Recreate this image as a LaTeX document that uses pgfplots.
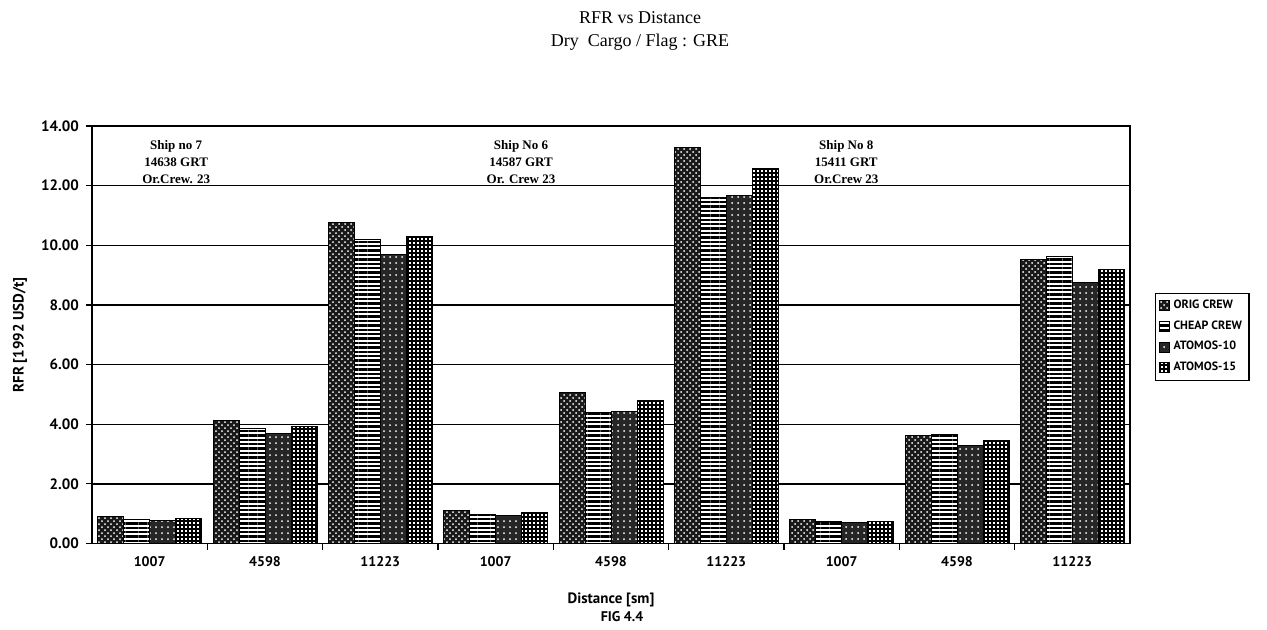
\documentclass[border=0pt]{standalone}
\usepackage{pgfplots}
\pgfplotsset{compat=1.18}
\usetikzlibrary{patterns,patterns.meta}
\usepackage{fontspec}
\setmainfont{Liberation Serif}
\newfontfamily\sansf{PT Sans}
\begin{document}
\begin{tikzpicture}[x=1pt,y=1pt]
\useasboundingbox (0,0) rectangle (633.5,314.5);
\begin{axis}[
  at={(46pt,42.75pt)}, anchor=south west,
  scale only axis, width=519pt, height=208.75pt,
  ymin=0, ymax=14, xmin=-0.5, xmax=8.5,
  ybar=0pt, bar width=13pt,
  axis line style={line width=0.8pt},
  ytick={0,2,...,14},
  ymajorgrids, grid style={black, line width=0.7pt},
  /pgf/number format/assume math mode=true,
  yticklabel={\pgfmathprintnumber[fixed,zerofill,precision=2]{\tick}},
  yticklabel style={font=\sansf\bfseries\fontsize{7.5}{8}\selectfont},
  xtick={0,...,8},
  xticklabels={1007,4598,11223,1007,4598,11223,1007,4598,11223},
  xticklabel style={font=\sansf\bfseries\fontsize{7}{8}\selectfont},
  major x tick style={draw=none},
  minor xtick={0.5,1.5,...,7.5},
  minor tick length=3pt, major tick length=3pt,
  tick align=outside, xtick pos=bottom, ytick pos=left,
  tick style={black, line width=0.6pt},
  legend style={at={(1.024,0.495)}, anchor=west, draw=black, line width=0.6pt,
    font=\sansf\bfseries\fontsize{6}{7}\selectfont, inner sep=1.5pt, row sep=0.5pt},
  legend cell align=left,
  legend image code/.code={\draw[#1] (0pt,-2.5pt) rectangle (5pt,2.5pt);},
]
\addplot[draw=black, line width=0.5pt, fill=black!90, postaction={pattern=crosshatch dots, pattern color=white}]
 coordinates {(0,0.90) (1,4.13) (2,10.76) (3,1.12) (4,5.07) (5,13.28) (6,0.79) (7,3.63) (8,9.53)};
\addlegendentry{ORIG CREW}
\addplot[draw=black, line width=0.5pt, fill=white, postaction={pattern={Lines[angle=0,distance=2.2pt,line width=1.2pt]}, pattern color=black}]
 coordinates {(0,0.82) (1,3.87) (2,10.20) (3,0.96) (4,4.40) (5,11.60) (6,0.73) (7,3.65) (8,9.62)};
\addlegendentry{CHEAP CREW}
\addplot[draw=black, line width=0.5pt, fill=black!85, postaction={pattern=dots, pattern color=white}]
 coordinates {(0,0.76) (1,3.68) (2,9.70) (3,0.93) (4,4.42) (5,11.68) (6,0.71) (7,3.27) (8,8.75)};
\addlegendentry{ATOMOS-10}
\addplot[draw=black, line width=0.5pt, fill=white, postaction={pattern={Hatch[angle=0,distance=2pt,line width=0.9pt]}, pattern color=black}]
 coordinates {(0,0.85) (1,3.93) (2,10.29) (3,1.04) (4,4.80) (5,12.59) (6,0.73) (7,3.47) (8,9.19)};
\addlegendentry{ATOMOS-15}
\node[font=\bfseries\fontsize{6.5}{8.5}\selectfont, align=center] at (axis cs:0.23,12.8) {Ship no 7\\14638 GRT\\Or.Crew. 23};
\node[font=\bfseries\fontsize{6.5}{8.5}\selectfont, align=center] at (axis cs:3.22,12.8) {Ship No 6\\14587 GRT\\Or. Crew 23};
\node[font=\bfseries\fontsize{6.5}{8.5}\selectfont, align=center] at (axis cs:6.04,12.8) {Ship No 8\\15411 GRT\\Or.Crew 23};
\end{axis}
\node[font=\fontsize{9}{11}\selectfont] at (320,305.5) {RFR vs Distance};
\node[font=\fontsize{9}{11}\selectfont] at (320,293.5) {Dry\ \ Cargo / Flag : GRE};
\node[rotate=90, font=\sansf\bfseries\fontsize{7.5}{9}\selectfont] at (10,147) {RFR [1992 USD/t]};
\node[font=\sansf\bfseries\fontsize{7.5}{9}\selectfont] at (305.5,14.5) {Distance [sm]};
\node[font=\sansf\bfseries\fontsize{7}{8}\selectfont] at (311,6) {FIG 4.4};
\end{tikzpicture}
\end{document}
